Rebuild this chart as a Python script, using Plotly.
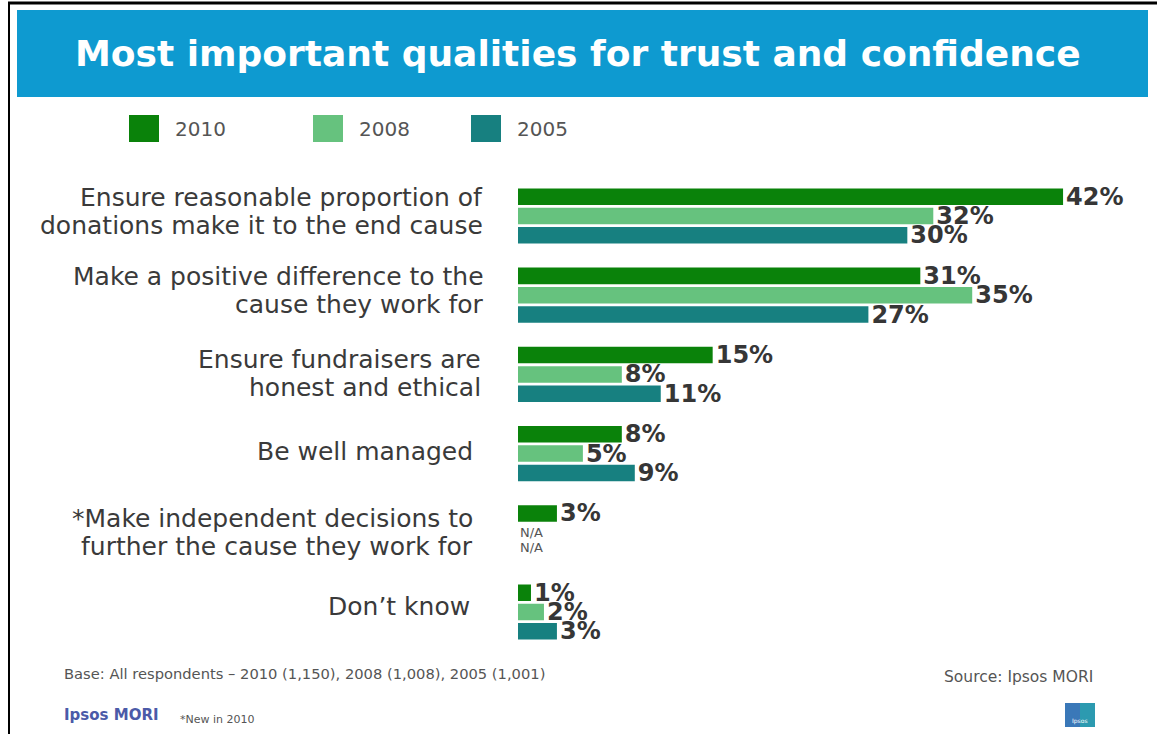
import plotly.graph_objects as go

# Survey data: share of respondents choosing each quality (%)
categories = [
    "Ensure reasonable proportion of<br>donations make it to the end cause",
    "Make a positive difference to the<br>cause they work for",
    "Ensure fundraisers are<br>honest and ethical",
    "Be well managed",
    "*Make independent decisions to<br>further the cause they work for",
    "Don\u2019t know",
]
years = ["2010", "2008", "2005"]
values_2010 = [42, 31, 15, 8, 3, 1]
values_2008 = [32, 35, 8, 5, None, 2]
values_2005 = [30, 27, 11, 9, None, 3]
series_values = [values_2010, values_2008, values_2005]

colors = ["#0A820A", "#66C27E", "#178080"]

W, H = 1157, 734


def px_x(x):
    return x / W


def px_y(y):
    return 1 - y / H


fig = go.Figure()
for name, vals, col in zip(years, series_values, colors):
    fig.add_trace(go.Bar(
        y=categories, x=vals, name=name, orientation="h",
        marker=dict(color=col, line=dict(width=0)),
        texttemplate="%{x}%", textposition="outside",
        textfont=dict(family="DejaVu Sans", size=24, color="#363636", weight="bold"),
        constraintext="none", cliponaxis=False, showlegend=False,
    ))

# Category labels, right-aligned left of the bars (one annotation per line)
label_right = [485, 486, 483, 475, 475, 472]
label_lift = [5, 5, 1, 2, 0, 6]
line_gap = 28
annotations = []
for cat, xr, lift in zip(categories, label_right, label_lift):
    lines = cat.split("<br>")
    n = len(lines)
    for i, line in enumerate(lines):
        offset = ((n - 1) / 2 - i) * line_gap
        annotations.append(dict(
            x=px_x(xr), xref="paper", y=cat, yref="y", yshift=lift + offset,
            text=line, showarrow=False, xanchor="right", yanchor="middle",
            font=dict(family="DejaVu Sans", size=25, color="#3A3A3A"),
        ))

# "N/A" markers for series with no value for the new item
for y_shift in (0, -15):
    annotations.append(dict(
        x=0, xref="x", y=categories[4], yref="y", yshift=y_shift, xshift=0,
        text="N/A", showarrow=False, xanchor="left", yanchor="middle",
        font=dict(family="DejaVu Sans", size=13, color="#555555"),
    ))

# Title inside the blue banner
annotations.append(dict(
    x=px_x(578), y=px_y(53), xref="paper", yref="paper",
    text="<b>Most important qualities for trust and confidence</b>",
    showarrow=False, xanchor="center", yanchor="middle",
    font=dict(family="DejaVu Sans", size=36, color="white"),
))

# Legend: colored squares with year labels
legend_x = [129, 313, 471]
legend_text_x = [173, 357, 515]
shapes = []
for lx, tx, name, col in zip(legend_x, legend_text_x, years, colors):
    shapes.append(dict(type="rect", xref="paper", yref="paper",
                       x0=px_x(lx), x1=px_x(lx + 30), y0=px_y(142), y1=px_y(115),
                       fillcolor=col, line=dict(width=0)))
    annotations.append(dict(
        x=px_x(tx), y=px_y(129), xref="paper", yref="paper", text=name,
        showarrow=False, xanchor="left", yanchor="middle",
        font=dict(family="DejaVu Sans", size=20, color="#555555"),
    ))

# Banner and frame lines
shapes.append(dict(type="rect", xref="paper", yref="paper",
                   x0=px_x(17), x1=px_x(1148), y0=px_y(97), y1=px_y(10),
                   fillcolor="#0E9AD0", line=dict(width=0), layer="below"))
shapes.append(dict(type="line", xref="paper", yref="paper",
                   x0=px_x(8), x1=1, y0=px_y(3), y1=px_y(3),
                   line=dict(color="black", width=3)))
shapes.append(dict(type="line", xref="paper", yref="paper",
                   x0=px_x(9), x1=px_x(9), y0=px_y(2), y1=0,
                   line=dict(color="black", width=2)))

# Small logo block bottom right
shapes.append(dict(type="rect", xref="paper", yref="paper",
                   x0=px_x(1065), x1=px_x(1095), y0=px_y(727), y1=px_y(703),
                   fillcolor="#3A78B8", line=dict(width=0)))
shapes.append(dict(type="rect", xref="paper", yref="paper",
                   x0=px_x(1080), x1=px_x(1095), y0=px_y(727), y1=px_y(703),
                   fillcolor="#2C9AB0", line=dict(width=0)))
annotations.append(dict(
    x=px_x(1080), y=px_y(721), xref="paper", yref="paper", text="Ipsos",
    showarrow=False, xanchor="center", yanchor="middle",
    font=dict(family="DejaVu Sans", size=6, color="white"),
))

# Footer texts
annotations += [
    dict(x=px_x(62), y=px_y(673), xref="paper", yref="paper",
         text="Base: All respondents \u2013 2010 (1,150), 2008 (1,008), 2005 (1,001)",
         showarrow=False, xanchor="left", yanchor="middle",
         font=dict(family="DejaVu Sans", size=14.7, color="#555555")),
    dict(x=px_x(1095), y=px_y(677), xref="paper", yref="paper",
         text="Source: Ipsos MORI",
         showarrow=False, xanchor="right", yanchor="middle",
         font=dict(family="DejaVu Sans", size=15.5, color="#555555")),
    dict(x=px_x(62), y=px_y(715), xref="paper", yref="paper",
         text="<b>Ipsos MORI</b>",
         showarrow=False, xanchor="left", yanchor="middle",
         font=dict(family="DejaVu Sans", size=15, color="#4B5AA8")),
    dict(x=px_x(178), y=px_y(719), xref="paper", yref="paper",
         text="*New in 2010",
         showarrow=False, xanchor="left", yanchor="middle",
         font=dict(family="DejaVu Sans", size=11, color="#555555")),
]

fig.update_layout(
    width=W, height=H,
    margin=dict(l=0, r=0, t=0, b=0),
    paper_bgcolor="white", plot_bgcolor="white",
    barmode="group", bargap=0.268, bargroupgap=0.145,
    xaxis=dict(domain=[px_x(518), px_x(1102)], range=[0, 45],
               showgrid=False, zeroline=False, showticklabels=False,
               showline=False, ticks=""),
    yaxis=dict(domain=[px_y(651.6), px_y(176.4)], range=[5.5, -0.5],
               type="category", showgrid=False, zeroline=False,
               showticklabels=False, showline=False, ticks=""),
    shapes=shapes, annotations=annotations,
    font=dict(family="DejaVu Sans"),
)

fig.write_html("out.html")
